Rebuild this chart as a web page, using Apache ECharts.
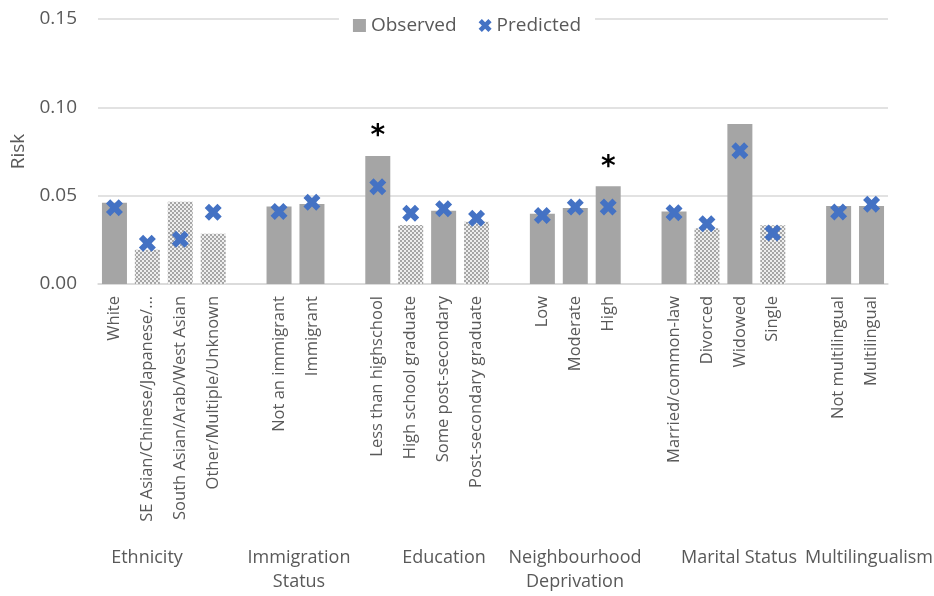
<!DOCTYPE html>
<html><head><meta charset="utf-8">
<script src="https://cdn.jsdelivr.net/npm/echarts@6/dist/echarts.min.js"></script>
<style>html,body{margin:0;padding:0;background:#fff}#c{width:934px;height:596px}</style>
</head><body><div id="c"></div>
<script>
var categories = ['White','SE Asian/Chinese/Japanese/…','South Asian/Arab/West Asian','Other/Multiple/Unknown','',
  'Not an immigrant','Immigrant','',
  'Less than highschool','High school graduate','Some post-secondary','Post-secondary graduate','',
  'Low','Moderate','High','',
  'Married/common-law','Divorced','Widowed','Single','',
  'Not multilingual','Multilingual'];
var observed = [0.0460,0.0194,0.0466,0.0284,null, 0.0438,0.0453,null, 0.0725,0.0334,0.0414,0.0353,null, 0.0398,0.0430,0.0553,null, 0.0411,0.0316,0.0906,0.0332,null, 0.0441,0.0441];
var predicted = [0.0432,0.0231,0.0254,0.0406,null, 0.0410,0.0463,null, 0.0551,0.0400,0.0426,0.0372,null, 0.0388,0.0436,0.0436,null, 0.0404,0.0341,0.0754,0.0288,null, 0.0407,0.0451];
var hatched = [0,1,1,1,0, 0,0,0, 0,1,0,1,0, 0,0,0,0, 0,1,0,1,0, 0,0];
var significant = [0,0,0,0,0, 0,0,0, 1,0,0,0,0, 0,0,1,0, 0,0,0,0,0, 0,0];
var groupLabels = ['Ethnicity','Immigration\nStatus','Education','Neighbourhood\nDeprivation','Marital Status','Multilingualism'];
var yTicks = [0, 0.05, 0.10, 0.15];

var FONT = 'Open Sans';
var GRAY = '#a5a5a5';
var BLUE = '#4472c4';
var TXT = '#595959';

// checker pattern for hatched bars
var pc = document.createElement('canvas');
pc.width = 4; pc.height = 4;
var pctx = pc.getContext('2d');
pctx.fillStyle = '#eeeeee'; pctx.fillRect(0,0,4,4);
pctx.fillStyle = '#a6a6a6'; pctx.fillRect(0,0,2,2); pctx.fillRect(2,2,2,2);
var pattern = {image: pc, repeat: 'repeat'};

var xPath = 'path://M2.5,0 L5,2.5 L7.5,0 L10,2.5 L7.5,5 L10,7.5 L7.5,10 L5,7.5 L2.5,10 L0,7.5 L2.5,5 L0,2.5 Z';

var barData = observed.map(function(v,i){
  if (v === null) return null;
  var item = {value: v, itemStyle: {color: hatched[i] ? pattern : GRAY}};
  if (significant[i]) {
    item.label = {show: true, position: 'top', formatter: '*', fontSize: 28, fontWeight: 'bold', color: '#000', distance: 5, fontFamily: 'DejaVu Sans'};
  }
  return item;
});

var groupX = [147, 299, 444, 575, 739, 869];
var graphics = groupLabels.map(function(t,i){
  return {type: 'text', x: groupX[i], y: 546, style: {text: t, font: '18px "' + FONT + '"', fill: TXT, textAlign: 'center', textVerticalAlign: 'top', lineHeight: 24}};
});

var chart = echarts.init(document.getElementById('c'), null, {renderer: 'canvas'});
chart.setOption({
  animation: false,
  backgroundColor: '#fff',
  textStyle: {fontFamily: FONT},
  grid: {left: 98, right: 46, top: 19, bottom: 312, containLabel: false},
  legend: {
    top: 13, left: 'center', backgroundColor: '#fff', padding: [3, 14], itemGap: 22,
    textStyle: {color: TXT, fontSize: 19, fontFamily: FONT},
    data: [
      {name: 'Observed', icon: 'rect', itemStyle: {color: GRAY}},
      {name: 'Predicted', icon: xPath, itemStyle: {color: BLUE}}
    ],
    itemWidth: 13, itemHeight: 13, z: 10
  },
  xAxis: {
    type: 'category', data: categories, boundaryGap: true,
    axisLine: {lineStyle: {color: '#d9d9d9', width: 1.5}},
    axisTick: {show: false},
    axisLabel: {rotate: 90, interval: 0, color: TXT, fontSize: 16.5, margin: 12, fontFamily: FONT}
  },
  yAxis: {
    type: 'value', min: yTicks[0], max: yTicks[yTicks.length-1], interval: 0.05,
    name: 'Risk', nameLocation: 'middle', nameGap: 68,
    nameTextStyle: {color: TXT, fontSize: 19, fontFamily: FONT},
    axisLine: {show: false}, axisTick: {show: false},
    axisLabel: {color: TXT, fontSize: 19, margin: 21, formatter: function(v){return v.toFixed(2);}},
    splitLine: {lineStyle: {color: '#d9d9d9', width: 1.5}}
  },
  series: [
    {name: 'Observed', type: 'bar', data: barData, barWidth: 25, itemStyle: {color: GRAY}},
    {name: 'Predicted', type: 'scatter', data: predicted, symbol: xPath, symbolSize: 17, itemStyle: {color: BLUE, opacity: 1}, z: 5}
  ],
  graphic: graphics
});
</script></body></html>
